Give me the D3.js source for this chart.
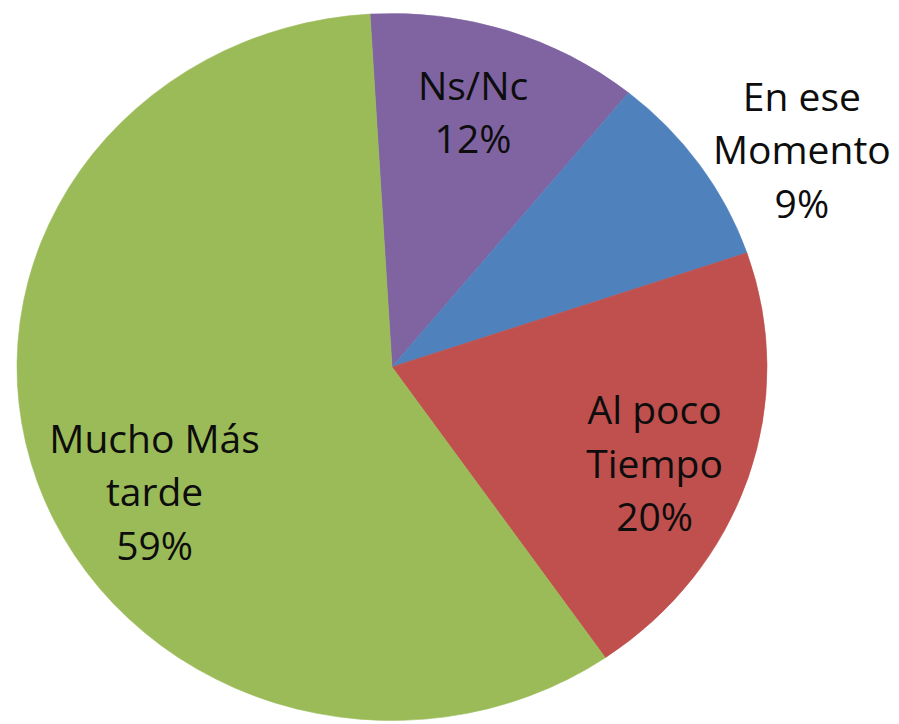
<!DOCTYPE html>
<html>
<head>
<meta charset="utf-8">
<script src="https://cdn.jsdelivr.net/npm/d3@7"></script>
<style>
  html, body { margin: 0; padding: 0; background: #ffffff; }
  svg { display: block; }
</style>
</head>
<body>
<svg id="chart" width="899" height="724"></svg>
<script>
// ---- data ----
const categories = ["Ns/Nc", "En ese Momento", "Al poco Tiempo", "Mucho Más tarde"];
const labelLines = [["Ns/Nc"], ["En ese", "Momento"], ["Al poco", "Tiempo"], ["Mucho Más", "tarde"]];
// slice shares
const values = [11.8, 8.9, 20.6, 58.7];
// percentage labels as printed in the picture
const percentLabels = ["12%", "9%", "20%", "59%"];
const colors = ["#8064A2", "#4F81BD", "#C0504D", "#9BBB59"];

// ---- layout ----
const W = 899, H = 724;
const cx = 392, cy = 367;
const R = 375;
const yScale = 353.5 / 375;            // reference pie is slightly squashed vertically
const startDeg = -3.36;
// label placement (angle in degrees clockwise from top, radius in unscaled pie units)
const labelAngles = [16.7, 60.7, 111.4, 240.8];
const labelRadii = [282, 470, 282, 272];
const fontSize = 39;
const lineHeight = 53.5;

const svg = d3.select("#chart");

const pie = d3.pie().sort(null).value(d => d)
  .startAngle(startDeg * Math.PI / 180)
  .endAngle(startDeg * Math.PI / 180 + 2 * Math.PI);
const arcs = pie(values);
const arc = d3.arc().innerRadius(0).outerRadius(R);

const g = svg.append("g")
  .attr("transform", `translate(${cx},${cy}) scale(1,${yScale})`);

g.selectAll("path.slice")
  .data(arcs)
  .join("path")
  .attr("class", "slice")
  .attr("d", arc)
  .attr("fill", (d, i) => colors[i])
  .attr("stroke", (d, i) => colors[i])
  .attr("stroke-width", 0.6);

// labels (not scaled)
const lg = svg.append("g").attr("transform", `translate(${cx},${cy})`);
arcs.forEach((a, i) => {
  const [px, py] = d3.pointRadial(labelAngles[i] * Math.PI / 180, labelRadii[i]);
  const x = px, y = py * yScale;
  const lines = labelLines[i].concat([percentLabels[i]]);
  const n = lines.length;
  const capHalf = fontSize * 0.357;
  const t = lg.append("text")
    .attr("text-anchor", "middle")
    .attr("font-family", "'Open Sans', 'DejaVu Sans', sans-serif")
    .attr("font-size", fontSize)
    .attr("fill", "#0d0d0d");
  lines.forEach((ln, k) => {
    t.append("tspan")
      .attr("x", x)
      .attr("y", y - (n - 1) / 2 * lineHeight + k * lineHeight + capHalf)
      .text(ln);
  });
});
</script>
</body>
</html>
